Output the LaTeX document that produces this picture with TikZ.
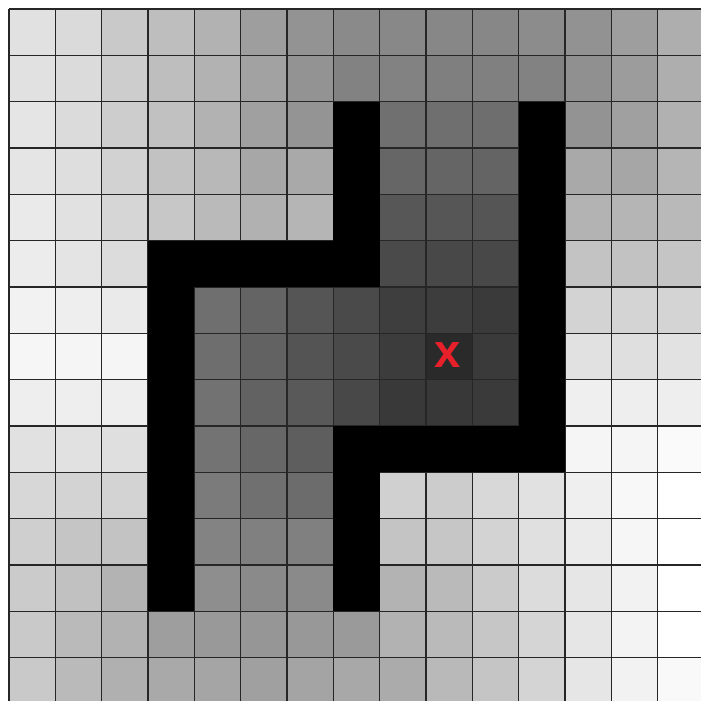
\documentclass[tikz,border=0pt]{standalone}
\usepackage{fontspec}
\usepackage{tikz}
\usetikzlibrary{positioning}
\newfontfamily\marcafont{Liberation Sans}
\definecolor{muro}{HTML}{000000}
\definecolor{linea}{HTML}{262626}
\definecolor{rojo}{HTML}{E8202A}

\begin{document}
\begin{tikzpicture}[x=1cm,y=1cm]
    \useasboundingbox (-0.194,0.194) rectangle (14.936,-14.936);
    \clip (-0.194,0.194) rectangle (14.936,-14.936);
    % gray values, one row per line (0 = wall)
    \foreach \fila [count=\j from 0] in {
      {225,218,201,190,178,158,147,138,136,135,135,140,146,158,174},
      {225,219,205,190,178,162,147,130,130,127,128,130,144,156,174},
      {229,219,205,193,178,160,148,0,112,111,110,0,147,160,177},
      {229,222,210,194,184,167,169,0,102,101,100,0,169,166,181},
      {234,225,214,199,186,177,181,0,87,86,85,0,179,181,185},
      {236,228,220,0,0,0,0,0,74,72,72,0,195,194,197},
      {242,238,234,0,111,100,85,74,62,61,58,0,211,212,212},
      {246,245,245,0,110,98,84,74,60,42,58,0,225,223,226},
      {238,238,238,0,114,98,89,72,57,56,58,0,239,238,238},
      {225,225,223,0,115,103,94,0,0,0,0,0,245,245,250},
      {215,211,211,0,123,112,108,0,208,204,216,225,239,248,255},
      {207,197,195,0,131,128,128,0,196,198,211,224,235,246,255},
      {203,193,179,0,142,138,138,0,179,186,203,220,230,242,255},
      {201,186,178,158,153,150,152,154,178,186,198,213,230,243,255},
      {201,186,176,169,165,160,164,168,171,185,197,212,230,242,249}}{
      \foreach \v [count=\i from 0] in \fila{
        \definecolor{celda}{RGB}{\v,\v,\v}
        \fill[celda] (\i,-\j) rectangle ++(1,-1);
      }
    }
    \draw[linea,line width=0.9pt] (0,0) grid (15,-15);
    % walls
    \fill[muro] (7,-2) rectangle (8,-6);
    \fill[muro] (3,-5) rectangle (8,-6);
    \fill[muro] (3,-5) rectangle (4,-13);
    \fill[muro] (11,-2) rectangle (12,-10);
    \fill[muro] (7,-9) rectangle (12,-10);
    \fill[muro] (7,-9) rectangle (8,-13);
    \node[text=rojo,inner sep=0pt,font=\marcafont\bfseries\fontsize{29}{29}\selectfont] (meta) at (9.47,-7.46) {x};
  \end{tikzpicture}
\end{document}
